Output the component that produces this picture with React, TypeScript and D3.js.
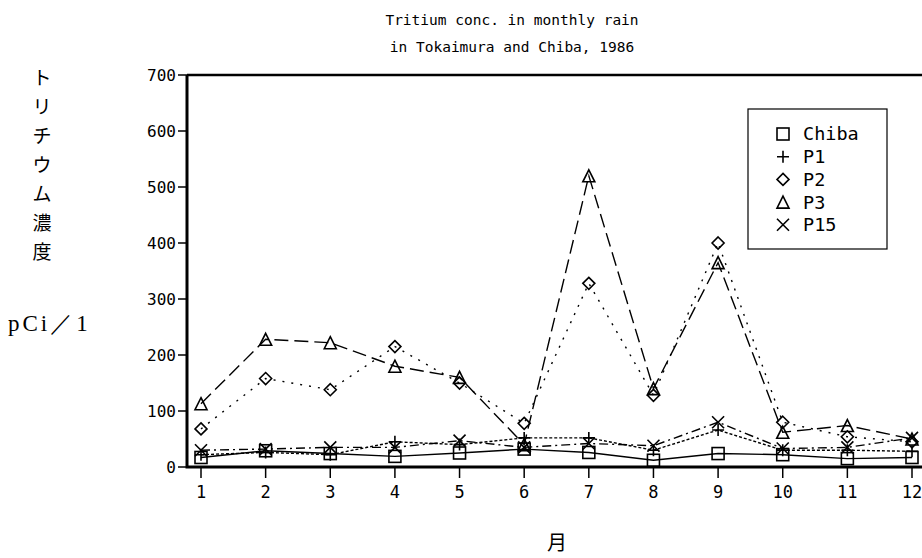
import React from 'react';
import * as d3 from 'd3';

// monthly tritium concentration (pCi/l)
const months = [1, 2, 3, 4, 5, 6, 7, 8, 9, 10, 11, 12];
const chiba = [17, 29, 24, 19, 25, 32, 26, 12, 24, 22, 15, 17];
const p1 = [22, 26, 22, 45, 40, 52, 52, 30, 66, 30, 30, 28];
const p2 = [68, 158, 138, 215, 150, 78, 328, 128, 400, 80, 54, 45];
const p3 = [113, 228, 222, 180, 160, 40, 520, 140, 365, 62, 74, 50];
const p15 = [30, 32, 35, 35, 47, 35, 42, 38, 80, 33, 35, 52];
const seriesNames = ['Chiba', 'P1', 'P2', 'P3', 'P15'];
const yTicks = [0, 100, 200, 300, 400, 500, 600, 700];
const titleLines = ['Tritium conc. in monthly rain', 'in Tokaimura and Chiba, 1986'];
const yLabelChars = ['ト', 'リ', 'チ', 'ウ', 'ム', '濃', '度'];

const W = 922;
const H = 558;
const mono = '"DejaVu Sans Mono", monospace';

const x = d3.scaleLinear().domain([1, 12]).range([201, 912]);
const y = d3.scaleLinear().domain([0, 700]).range([467, 75]);

const series = [
  { name: seriesNames[0], values: chiba, marker: 'square', dash: '' },
  { name: seriesNames[1], values: p1, marker: 'plus', dash: '3,2' },
  { name: seriesNames[2], values: p2, marker: 'diamond', dash: '2,7' },
  { name: seriesNames[3], values: p3, marker: 'triangle', dash: '14,6' },
  { name: seriesNames[4], values: p15, marker: 'cross', dash: '9,4,2,4' },
];

function Marker({ type, cx, cy }: { type: string; cx: number; cy: number }) {
  const s = 6;
  const common = { fill: 'none', stroke: '#000', strokeWidth: 1.6 };
  if (type === 'square') return <rect x={cx - s} y={cy - s} width={2 * s} height={2 * s} {...common} />;
  if (type === 'plus')
    return <path d={`M${cx - s},${cy}H${cx + s}M${cx},${cy - s}V${cy + s}`} {...common} />;
  if (type === 'diamond')
    return <path d={`M${cx},${cy - s}L${cx + s},${cy}L${cx},${cy + s}L${cx - s},${cy}Z`} {...common} />;
  if (type === 'triangle')
    return <path d={`M${cx},${cy - s}L${cx + s},${cy + s}L${cx - s},${cy + s}Z`} {...common} />;
  return <path d={`M${cx - s},${cy - s}L${cx + s},${cy + s}M${cx + s},${cy - s}L${cx - s},${cy + s}`} {...common} />;
}

export default function App() {
  const line = d3
    .line<number>()
    .x((_, i) => x(months[i]))
    .y((d) => y(d));

  const left = 187;
  const right = 930;

  return (
    <div style={{ position: 'absolute', left: 0, top: 0 }}>
      <svg width={W} height={H} style={{ display: 'block', background: '#fff' }}>
        {/* title */}
        {titleLines.map((t, i) => (
          <text key={t} x={512} y={25 + i * 27} textAnchor="middle" fontFamily={mono} fontSize={14.5}>
            {t}
          </text>
        ))}

        {/* y label, stacked vertically */}
        {yLabelChars.map((c, i) => (
          <text
            key={i}
            x={42}
            y={78 + i * 29}
            dy="0.35em"
            textAnchor="middle"
            fontFamily='"Noto Sans CJK JP", sans-serif'
            fontSize={19}
          >
            {c}
          </text>
        ))}
        <text x={8} y={331} fontFamily='"Liberation Serif", serif' fontSize={23} letterSpacing={3}>
          pCi／1
        </text>
        <text x={557} y={550} textAnchor="middle" fontFamily='"Noto Sans CJK JP", sans-serif' fontSize={20}>
          月
        </text>

        {/* frame */}
        <path d={`M${left},${y(700)}H${right}`} stroke="#000" strokeWidth={2.5} />
        <path d={`M${left},${y(700)}V${y(0)}H${right}`} stroke="#000" strokeWidth={3} fill="none" />

        {/* y ticks */}
        {yTicks.map((t) => (
          <g key={t}>
            <line x1={178} x2={left} y1={y(t)} y2={y(t)} stroke="#000" strokeWidth={1.5} />
            <text x={176} y={y(t)} dy="0.35em" textAnchor="end" fontFamily={mono} fontSize={16}>
              {t}
            </text>
          </g>
        ))}

        {/* x ticks */}
        {months.map((m) => (
          <g key={m}>
            <line x1={x(m)} x2={x(m)} y1={y(0)} y2={y(0) + 11} stroke="#000" strokeWidth={1.5} />
            <text x={x(m)} y={498} textAnchor="middle" fontFamily={mono} fontSize={17}>
              {m}
            </text>
          </g>
        ))}

        {/* series */}
        {series.map((s) => (
          <g key={s.name}>
            <path
              d={line(s.values) || ''}
              fill="none"
              stroke="#000"
              strokeWidth={1.4}
              strokeDasharray={s.dash || undefined}
            />
            {s.values.map((v, i) => (
              <Marker key={i} type={s.marker} cx={x(months[i])} cy={y(v)} />
            ))}
          </g>
        ))}

        {/* legend */}
        <rect x={748} y={109} width={139} height={140} fill="#fff" stroke="#000" strokeWidth={1.2} />
        {series.map((s, i) => (
          <g key={s.name}>
            <Marker type={s.marker} cx={783} cy={134 + i * 22.7} />
            <text x={803} y={134 + i * 22.7} dy="0.35em" fontFamily={mono} fontSize={18.5}>
              {s.name}
            </text>
          </g>
        ))}
      </svg>
    </div>
  );
}
